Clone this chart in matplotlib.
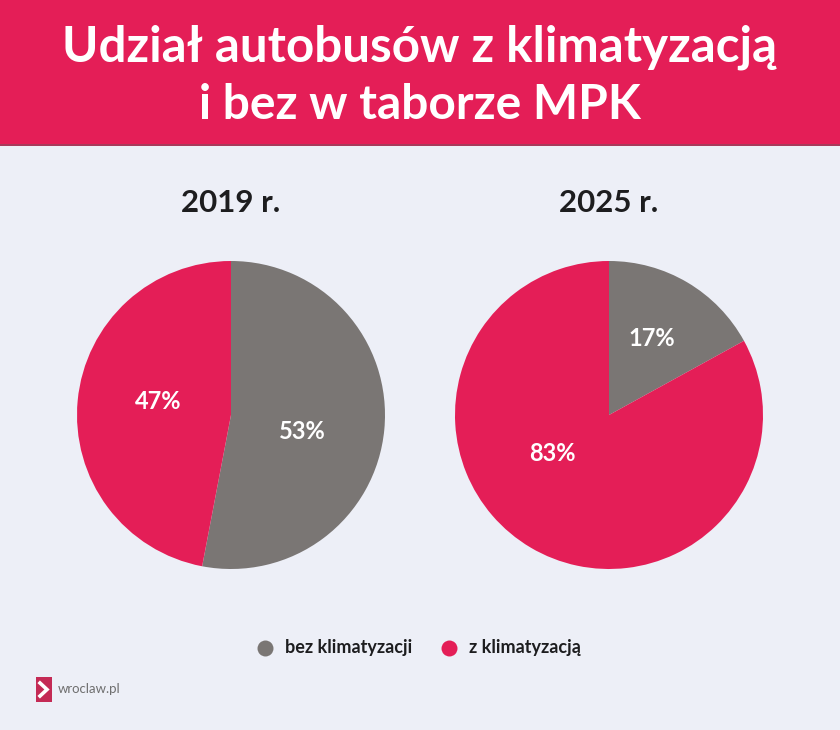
import matplotlib
matplotlib.use("Agg")
import matplotlib.pyplot as plt
from matplotlib.lines import Line2D
from matplotlib.patches import Rectangle

years = ["2019 r.", "2025 r."]
labels = ["bez klimatyzacji", "z klimatyzacją"]
values_2019 = [53, 47]
values_2025 = [17, 83]
colors = ["#7a7674", "#e41e57"]
bg = "#edeff7"
dark = "#1d1d1f"
font = "Lato"

W, H = 840, 730
R = 154

fig = plt.figure(figsize=(W / 100, H / 100), dpi=100, facecolor=bg)


def fx(x):
    return x / W


def fy(y):
    return 1 - y / H


# header band
fig.add_artist(Rectangle((0, fy(146)), 1, 146 / H, transform=fig.transFigure, color=colors[1], lw=0))
fig.add_artist(Rectangle((0, fy(146)), 1, 2 / H, transform=fig.transFigure, color="#a8395a", lw=0))
fig.text(0.5, fy(47), "Udział autobusów z klimatyzacją", ha="center", va="center",
         color="white", fontsize=35.5, fontweight="bold", family=font)
fig.text(0.5, fy(105), "i bez w taborze MPK", ha="center", va="center",
         color="white", fontsize=34.5, fontweight="bold", family=font)


def draw_pie(cx, values, title, label_offsets):
    ax = fig.add_axes([fx(cx - R), fy(415 + R), 2 * R / W, 2 * R / H])
    ax.pie(values, colors=colors, startangle=90, counterclock=False, radius=1,
           wedgeprops={"linewidth": 0})
    ax.set_xlim(-1, 1)
    ax.set_ylim(-1, 1)
    for v, (dx, dy) in zip(values, label_offsets):
        ax.text(dx / R, dy / R, f"{v}%", ha="center", va="center", color="white",
                fontsize=17, fontweight="bold", family=font)
    fig.text(fx(cx), fy(203), title, ha="center", va="center", color=dark,
             fontsize=22.5, fontweight="bold", family=font)


draw_pie(231, values_2019, years[0], [(71, -17), (-73, 13)])
draw_pie(609, values_2025, years[1], [(43, 76), (-57, -39)])

# legend
for x, c, name in zip([265, 449], colors, labels):
    fig.add_artist(Line2D([fx(x)], [fy(648)], ls="", marker="o", ms=11.5, color=c,
                          mew=0, transform=fig.transFigure))
    fig.text(fx(x + 20), fy(648), name, ha="left", va="center", color=dark,
             fontsize=13, fontweight="bold", family=font)

# logo
fig.add_artist(Rectangle((fx(36), fy(702)), 16 / W, 25 / H, transform=fig.transFigure,
                         color="#c42a55", lw=0))
fig.add_artist(Line2D([fx(40), fx(47), fx(40)], [fy(683), fy(689.5), fy(696)], color="white",
                      lw=2.6, transform=fig.transFigure, solid_joinstyle="miter"))
fig.text(fx(58), fy(689), "wroclaw.pl", ha="left", va="center", color="#6f6f6f",
         fontsize=9.5, family=font)

fig.savefig("out.png", dpi=100, facecolor=bg)
